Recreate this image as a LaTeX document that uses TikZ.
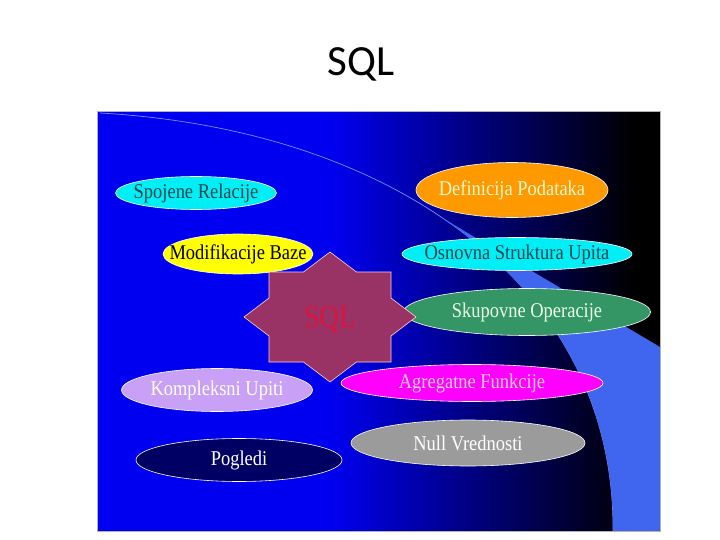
\documentclass[tikz,border=0pt]{standalone}
\usepackage{fontspec}
\setmainfont{Liberation Serif}
\newfontfamily\titlefont{Carlito}
\usetikzlibrary{shapes.geometric}

\definecolor{slideblue}{RGB}{0,0,240}
\definecolor{bandblue}{RGB}{64,102,240}
\definecolor{arcblue}{RGB}{110,150,255}
\definecolor{starfill}{RGB}{153,51,102}
\definecolor{sqlred}{RGB}{220,20,60}
\definecolor{bubcyan}{RGB}{0,238,245}
\definecolor{bubteal}{RGB}{10,70,80}
\definecolor{buborange}{RGB}{255,153,0}
\definecolor{bubcream}{RGB}{255,250,205}
\definecolor{bubyellow}{RGB}{255,255,0}
\definecolor{bubgreen}{RGB}{51,150,100}
\definecolor{bubmint}{RGB}{235,255,235}
\definecolor{bublilac}{RGB}{200,160,245}
\definecolor{bubmagenta}{RGB}{255,0,255}
\definecolor{bubpink}{RGB}{255,205,255}
\definecolor{bubgray}{RGB}{155,155,155}
\definecolor{bubnavy}{RGB}{0,0,100}

\begin{document}
\begin{tikzpicture}[x=1pt,y=-1pt,
    bubble/.style={ellipse,draw=white,line width=0.6pt,inner sep=0pt},
    bubtext/.style={font=\fontsize{21}{23}\selectfont,xscale=0.88}]
    \useasboundingbox[fill=white] (0,0) rectangle (720,540);
    \node[font=\titlefont\fontsize{43}{48}\selectfont] (title) at (361,64) {SQL};

    % slide background
    \fill[slideblue] (97,112) rectangle (660,531);
    \shade[left color=slideblue,right color=black] (330,112) rectangle (635,531);
    \fill[black] (635,112) rectangle (660,531);
    \draw[arcblue,line width=0.7pt] (100,113) .. controls (400,130) and (615,290) .. (613,531);
    \begin{scope}
        \clip (380,181) -- (660,347) -- (660,531) -- (380,531) -- cycle;
        \fill[bandblue] (100,113) .. controls (400,130) and (615,290) .. (613,531)
            -- (660,531) -- (660,113) -- cycle;
    \end{scope}
    \draw[gray!60,line width=1pt] (97,112) rectangle (660,531);

    \node[bubble,fill=bubcyan,minimum width=161,minimum height=33,
        label={[bubtext,text=bubteal]center:Spojene Relacije}] (spojene) at (196,193) {};
    \node[bubble,fill=buborange,minimum width=192,minimum height=55,
        label={[bubtext,text=bubcream]center:Definicija Podataka}] (definicija) at (512,190) {};
    \node[bubble,fill=bubyellow,minimum width=150,minimum height=40,
        label={[bubtext,text=black]center:Modifikacije Baze}] (modifikacije) at (238,254) {};
    \node[bubble,fill=bubcyan,minimum width=230,minimum height=33,
        label={[bubtext,text=bubteal]center:Osnovna Struktura Upita}] (osnovna) at (517,254) {};
    \node[bubble,fill=bubgreen,minimum width=247,minimum height=47,
        label={[bubtext,text=bubmint]center:Skupovne Operacije}] (skupovne) at (527,312) {};
    \node[bubble,fill=bublilac,minimum width=191,minimum height=43,
        label={[bubtext,text=white]center:Kompleksni Upiti}] (kompleksni) at (217,390) {};
    \node[bubble,fill=bubmagenta,minimum width=262,minimum height=37,
        label={[bubtext,text=bubpink]center:Agregatne Funkcije}] (agregatne) at (472,383) {};
    \node[bubble,fill=bubgray,minimum width=234,minimum height=46,
        label={[bubtext,text=white]center:Null Vrednosti}] (nullv) at (468,443) {};
    \node[bubble,fill=bubnavy,minimum width=206,minimum height=43,
        label={[bubtext,text=white]center:Pogledi}] (pogledi) at (239,460) {};

    % the star in the middle
    \draw[fill=starfill,draw=pink!70!white,line width=0.6pt,shift={(330,317)}]
        (86,0) -- (61,19) -- (61,45) -- (26.5,45) -- (0,65) -- (-26.5,45) -- (-61,45) -- (-61,19)
        -- (-86,0) -- (-61,-19) -- (-61,-45) -- (-26.5,-45) -- (0,-65) -- (26.5,-45) -- (61,-45)
        -- (61,-19) -- cycle;
    \node[text=sqlred,font=\fontsize{32}{34}\selectfont,xscale=0.85] (sql) at (330,319) {SQL};
\end{tikzpicture}
\end{document}
